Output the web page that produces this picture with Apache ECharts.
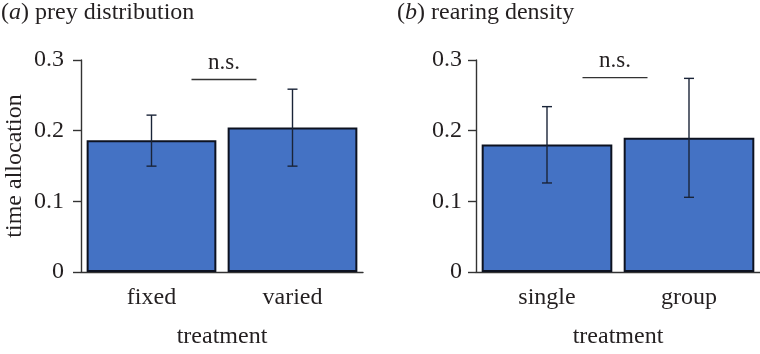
<!DOCTYPE html>
<html><head><meta charset="utf-8">
<script src="https://cdn.jsdelivr.net/npm/echarts@6/dist/echarts.min.js"></script>
<style>html,body{margin:0;padding:0;background:#fff}#c{width:760px;height:354px}</style>
</head><body><div id="c"></div>
<script>
var catsA = ['fixed', 'varied'];
var meansA = [0.1866, 0.2045];
var lowA = [0.1498, 0.1498];
var highA = [0.222, 0.2587];
var nsA = 0.2725;

var catsB = ['single', 'group'];
var meansB = [0.1805, 0.190];
var lowB = [0.126, 0.1057];
var highB = [0.234, 0.274];
var nsB = 0.275;

var yTicks = [0, 0.1, 0.2, 0.3];
var titleA = ['a', 'prey distribution'];
var titleB = ['b', 'rearing density'];
var yName = 'time allocation';
var xName = 'treatment';

var FONT = '"Liberation Serif", "DejaVu Serif", serif';
var TXT = '#231f20';
var FS = 24;
var chart = echarts.init(document.getElementById('c'));

function errSeries(idx, low, high) {
  return {
    type: 'custom', xAxisIndex: idx, yAxisIndex: idx, z: 5,
    data: low.map(function (l, i) { return [i, l, high[i]]; }),
    renderItem: function (params, api) {
      var lo = api.coord([api.value(0), api.value(1)]);
      var hi = api.coord([api.value(0), api.value(2)]);
      var w = 5;
      var st = { stroke: '#1a2438', lineWidth: 1.4 };
      return { type: 'group', children: [
        { type: 'line', shape: { x1: lo[0], y1: lo[1], x2: hi[0], y2: hi[1] }, style: st },
        { type: 'line', shape: { x1: lo[0] - w, y1: lo[1], x2: lo[0] + w, y2: lo[1] }, style: st },
        { type: 'line', shape: { x1: hi[0] - w, y1: hi[1], x2: hi[0] + w, y2: hi[1] }, style: st }
      ]};
    }
  };
}
function nsSeries(idx, val) {
  return {
    type: 'custom', xAxisIndex: idx, yAxisIndex: idx, z: 6,
    data: [[0.5, val]],
    renderItem: function (params, api) {
      var p = api.coord([0, api.value(1)]);
      var q = api.coord([1, api.value(1)]);
      var cx = (p[0] + q[0]) / 2 + (idx === 0 ? 2 : -3);
      var y = p[1];
      return { type: 'group', children: [
        { type: 'line', shape: { x1: cx - 32.5, y1: y, x2: cx + 32.5, y2: y }, style: { stroke: '#333', lineWidth: 1.4 } },
        { type: 'text', x: cx, y: y - 5, style: { text: 'n.s.', font: '23px ' + FONT, fill: TXT, align: 'center', verticalAlign: 'bottom' } }
      ]};
    }
  };
}
function barSeries(idx, vals) {
  return {
    type: 'bar', xAxisIndex: idx, yAxisIndex: idx, data: vals, barCategoryGap: '8%',
    itemStyle: { color: '#4472C4', borderColor: '#0d1220', borderWidth: 2 }
  };
}
function yAxis(idx, showName) {
  return {
    type: 'value', gridIndex: idx, min: 0, max: 0.3, interval: 0.1,
    name: showName ? yName : '', nameLocation: 'middle', nameGap: 54, nameRotate: 90,
    nameTextStyle: { fontFamily: FONT, fontSize: FS, color: TXT },
    axisLine: { show: true, lineStyle: { color: '#333', width: 1.4 } },
    axisTick: { show: true, length: 8, lineStyle: { color: '#333', width: 1.4 } },
    splitLine: { show: false },
    axisLabel: { fontFamily: FONT, fontSize: FS, color: TXT, margin: idx === 0 ? 17 : 14,
      formatter: function (v) { var t = yTicks.filter(function (x) { return Math.abs(x - v) < 1e-9; }); return t.length ? String(t[0]) : ''; } }
  };
}
function xAxis(idx, cats) {
  return {
    type: 'category', gridIndex: idx, data: cats,
    name: xName, nameLocation: 'middle', nameGap: 53,
    nameTextStyle: { fontFamily: FONT, fontSize: FS, color: TXT },
    axisLine: { lineStyle: { color: '#333', width: 1.4 } },
    axisTick: { show: false },
    axisLabel: { fontFamily: FONT, fontSize: FS, color: TXT, margin: 14 }
  };
}
function titleOf(left, t) {
  return {
    left: left, top: 1, padding: 0, text: '{n|(}{i|' + t[0] + '}{n|) ' + t[1] + '}',
    textStyle: { fontWeight: 'normal', rich: {
      n: { fontFamily: FONT, fontSize: 24, color: TXT, fontWeight: 'normal' },
      i: { fontFamily: FONT, fontSize: 24, color: TXT, fontStyle: 'italic', fontWeight: 'normal' }
    } }
  };
}

chart.setOption({
  animation: false,
  title: [titleOf(1, titleA), titleOf(397, titleB)],
  grid: [
    { left: 81, top: 60, width: 282, height: 217.7 },
    { left: 476, top: 60, width: 284, height: 217.7 }
  ],
  xAxis: [xAxis(0, catsA), xAxis(1, catsB)],
  yAxis: [yAxis(0, true), yAxis(1, false)],
  series: [
    barSeries(0, meansA), barSeries(1, meansB),
    errSeries(0, lowA, highA), errSeries(1, lowB, highB),
    nsSeries(0, nsA), nsSeries(1, nsB)
  ]
});
</script></body></html>
